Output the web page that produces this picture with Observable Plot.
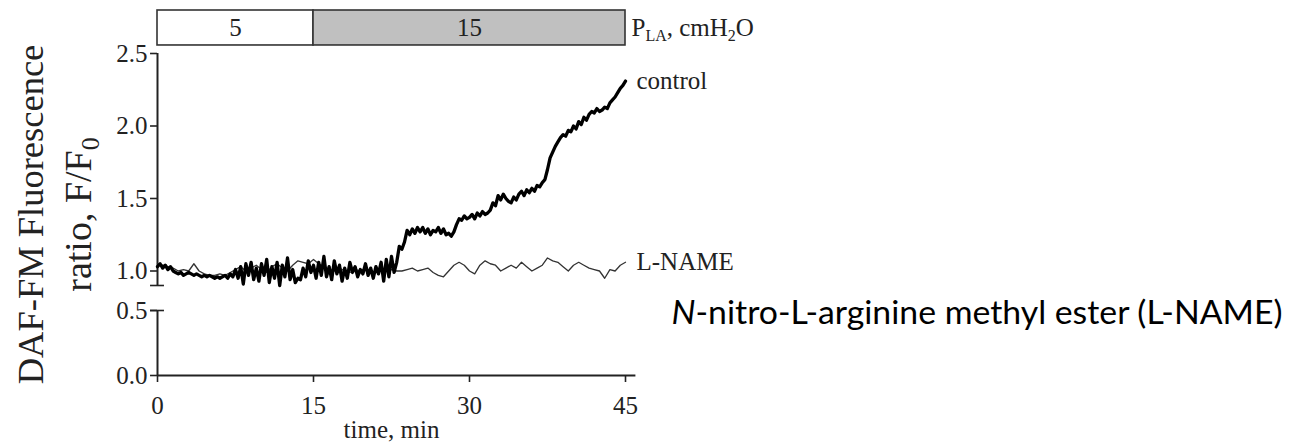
<!DOCTYPE html>
<html><head><meta charset="utf-8">
<script src="https://cdn.jsdelivr.net/npm/d3@7"></script>
<script src="https://cdn.jsdelivr.net/npm/@observablehq/plot@0.6"></script>
<style>body{margin:0;background:#fff}</style>
</head><body><div id="chart"></div>
<script>
// ---- data ----
const controlStep = 0.25; // minutes between samples
const controlValues = [
1.03,1.05,1.02,1.04, 1.01,1.03,1.00,0.99, 0.98,0.99,0.97,0.98, 0.99,0.98,0.97,0.98,
0.97,0.96,0.97,0.96, 0.97,0.96,0.95,0.96, 0.95,0.96,0.97,0.95, 0.98,0.96,1.01,0.95,
1.03,0.91,1.05,0.97, 1.06,0.94,1.02,0.93, 1.05,0.97,1.08,0.92, 1.03,0.95,1.06,0.90,
1.04,0.96,1.09,0.94, 1.01,0.92,0.95,0.94, 1.02,0.96,1.07,0.99, 1.04,0.95,1.06,0.97,
1.10,0.96,1.03,0.94, 1.07,0.98,1.04,0.93, 1.02,0.95,1.06,0.99, 1.03,0.96,1.01,0.98,
1.05,0.97,1.02,0.95, 1.03,0.98,1.06,0.93, 1.08,0.96,1.10,0.99, 1.06,1.17,1.15,1.20,
1.28,1.25,1.29,1.26, 1.30,1.27,1.30,1.26, 1.29,1.25,1.28,1.27, 1.30,1.26,1.29,1.25,
1.26,1.24,1.27,1.32, 1.36,1.35,1.38,1.36, 1.37,1.39,1.36,1.40, 1.38,1.41,1.39,1.40,
1.42,1.47,1.45,1.52, 1.49,1.53,1.50,1.48, 1.47,1.51,1.49,1.53, 1.55,1.52,1.56,1.54,
1.57,1.55,1.59,1.58, 1.61,1.63,1.70,1.78, 1.82,1.86,1.89,1.92, 1.94,1.93,1.97,1.96,
2.00,1.98,2.03,2.01, 2.06,2.04,2.08,2.10, 2.09,2.12,2.10,2.11, 2.13,2.12,2.16,2.18,
2.20,2.23,2.26,2.28, 2.31
];
const lnameStep = 0.5;
const lnameValues = [
1.05,1.04,1.03,1.02,1.00,1.01,1.00,1.05,1.00,0.98,
0.97,0.97,0.98,0.97,0.99,1.01,1.03,1.00,1.02,1.04,
1.01,0.99,1.03,1.05,1.02,1.00,1.04,1.07,1.06,1.05,
1.08,1.05,1.03,1.01,1.00,1.02,1.00,0.99,1.01,1.00,
1.02,1.00,0.99,1.01,1.00,1.01,1.00,1.00,1.01,1.02,
1.00,1.01,1.02,0.99,0.97,0.96,1.00,1.04,1.06,1.04,
1.00,0.98,1.04,1.07,1.05,1.04,1.00,1.02,1.04,1.02,
1.06,1.03,1.00,1.02,1.04,1.09,1.07,1.06,1.03,1.00,
1.04,1.06,1.04,1.02,1.01,1.00,0.95,1.01,1.00,1.04,
1.06
];
const seriesNames = ["control", "L-NAME"];
const xTicks = [0, 15, 30, 45];
const yTicks = [0, 0.5, 1.0, 1.5, 2.0, 2.5];
const pressureStart = [0, 15];
const pressureEnd = [15, 45];
const pressureLabels = ["5", "15"];
const pressureTitle = "PLA, cmH2O";
const yLabelLines = ["DAF-FM Fluorescence", "ratio, F/F0"];
const xLabel = "time, min";
const caption = "N-nitro-L-arginine methyl ester (L-NAME)";

// ---- derived tables ----
const control = controlValues.map((v, i) => ({t: i * controlStep, v, series: seriesNames[0]}));
const lname = lnameValues.map((v, i) => ({t: i * lnameStep, v, series: seriesNames[1]}));
const pressure = pressureLabels.map((label, i) => ({start: pressureStart[i], end: pressureEnd[i], label}));

// broken y axis: lower panel 0–0.5, upper panel 0.9–2.5, pressure band above (piecewise map into a linear display scale)
const yBreak = d3.scaleLinear().domain([0, 0.5, 0.9, 2.5, 2.8]).range([0, 65, 90, 322, 365]);
const barBottom = 2.556, barTop = 2.8;
const Y = v => yBreak(v);

const serif = "'Liberation Serif','Times New Roman',serif";
const ink = "#222";

const chart = Plot.plot({
  width: 1297, height: 447,
  marginLeft: 157, marginRight: 672, marginTop: 10, marginBottom: 72,
  style: {fontFamily: serif, fontSize: "25px", color: ink, background: "#fff", overflow: "visible"},
  x: {domain: [0, 45]},
  y: {domain: [0, 365], axis: null},
  color: {domain: pressureLabels, range: ["#ffffff", "#c0c0c0"]},
  marks: [
    // pressure band
    Plot.rect(pressure, {x1: "start", x2: "end", y1: Y(barBottom), y2: Y(barTop), fill: "label", stroke: "#333", strokeWidth: 1.6}),
    Plot.text(pressure, {x: d => (d.start + d.end) / 2, y: Y((barBottom + barTop) / 2), text: "label", fontSize: 25, fill: ink}),
    Plot.text([pressureTitle], {x: 45, y: Y((barBottom + barTop) / 2), dx: 6, textAnchor: "start", fontSize: 25, fill: ink}),
    // axes
    Plot.ruleY([0], {x1: 0, x2: 46, stroke: ink, strokeWidth: 2}),
    Plot.ruleX([0], {y1: Y(0), y2: Y(0.5), stroke: ink, strokeWidth: 2}),
    Plot.ruleX([0], {y1: Y(0.9), y2: Y(2.5), stroke: ink, strokeWidth: 2}),
    Plot.ruleY([0.5, 0.9], {y: Y, x1: -0.67, x2: 0.67, stroke: ink, strokeWidth: 1.6}),
    Plot.axisX({ticks: xTicks, tickSize: 7, tickPadding: 14, label: null, fontSize: 25, strokeWidth: 1.6}),
    Plot.ruleY(yTicks, {y: Y, x1: -0.67, x2: 0, stroke: ink, strokeWidth: 1.6}),
    Plot.text(yTicks, {y: Y, x: 0, dx: -10, textAnchor: "end", text: d => d.toFixed(1), fontSize: 25, fill: ink}),
    // series
    Plot.line(lname, {x: "t", y: d => Y(d.v), stroke: "#333", strokeWidth: 1.3}),
    Plot.line(control, {x: "t", y: d => Y(d.v), stroke: "#000", strokeWidth: 3.3, strokeLinejoin: "round"}),
    Plot.text([control[control.length - 1], lname[lname.length - 1]], {x: "t", y: d => Y(d.v), text: "series", dx: 11, textAnchor: "start", fontSize: 25, fill: ink}),
    // axis titles
    Plot.text([yLabelLines[0]], {frameAnchor: "top-left", dx: -115, dy: 204, rotate: -90, textAnchor: "middle", lineAnchor: "bottom", fontSize: 36.5, fill: ink}),
    Plot.text([yLabelLines[1]], {frameAnchor: "top-left", dx: -67, dy: 204, rotate: -90, textAnchor: "middle", lineAnchor: "bottom", fontSize: 38, fill: ink}),
    Plot.text([xLabel], {frameAnchor: "bottom", dy: 62, lineAnchor: "bottom", fontSize: 25, fill: ink}),
    // caption
    Plot.text([caption], {frameAnchor: "bottom-right", dx: 46, dy: -52, textAnchor: "start", lineAnchor: "bottom", fontSize: 33, fontFamily: "Lato, 'Open Sans', sans-serif", fill: "#000"})
  ]
});

// rich text (subscripts / italics)
function rich(svg, plain, parts) {
  return d3.select(svg).selectAll("text").filter(function () { return this.textContent === plain; }).each(function () {
    const sel = d3.select(this);
    sel.text(null);
    for (const p of parts) {
      const ts = sel.append("tspan").text(p.text);
      if (p.dy) ts.attr("dy", p.dy);
      if (p.size) ts.attr("font-size", p.size);
      if (p.italic) ts.attr("font-style", "italic");
    }
  });
}
rich(chart, pressureTitle, [
  {text: "P"}, {text: "LA", dy: 5, size: 16}, {text: ", cmH", dy: -5}, {text: "2", dy: 5, size: 16}, {text: "O", dy: -5}
]);
rich(chart, yLabelLines[1], [{text: "ratio, F/F"}, {text: "0", dy: 8, size: 26}]);
rich(chart, caption, [{text: "N", italic: true}, {text: "-nitro-L-arginine methyl ester (L-NAME)"}])
  .attr("textLength", 611).attr("lengthAdjust", "spacingAndGlyphs");

document.getElementById("chart").append(chart);
</script>
</body></html>
